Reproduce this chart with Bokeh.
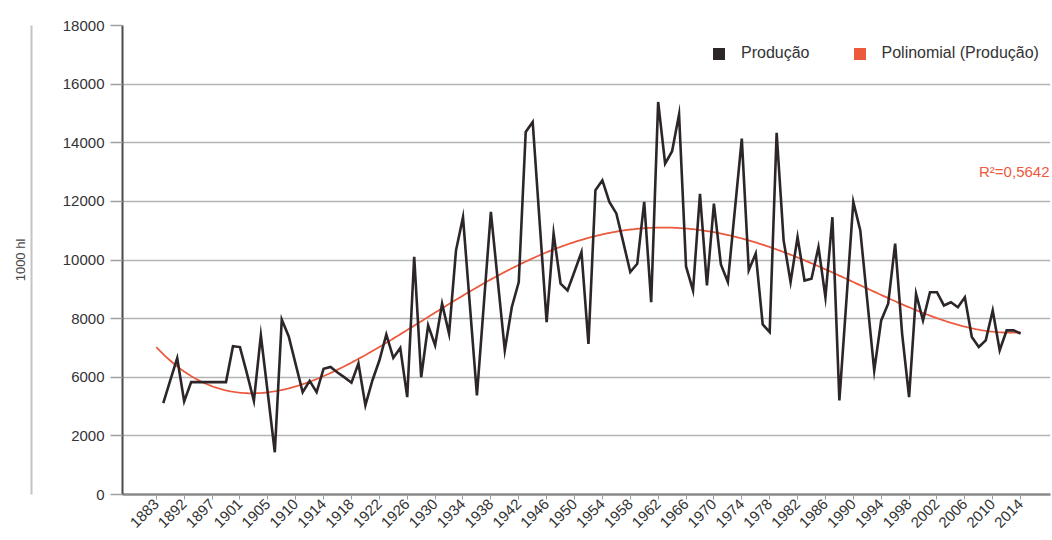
import numpy as np
from bokeh.plotting import figure
from bokeh.models import (Range1d, FixedTicker, Legend, LegendItem, Label,
                          LinearAxis, ColumnDataSource)
from bokeh.embed import file_html
from bokeh.resources import INLINE

# ---------------- data ----------------
YEARS = [1883, 1886, 1888, 1890, 1892, 1893, 1894, 1895, 1897, 1898, 1899, 1900,
         1901, 1902, 1903, 1904, 1905, 1906, 1907, 1908, 1910, 1911, 1912, 1913] + \
        list(range(1914, 2015))

PRODUCAO = [None, 4230, 5780, 6650, 4350, 5670, 5670, 5670, 5670, 5670, 5670, 7060,
            7030, 6130, 4380, 7430, 4890, 1440, 7970, 7390, 6440, 4980, 5750, 4980,
            6290, 6350, 6160, 5990, 5630, 6470, 4080, 5780, 6570, 7460, 6660, 7000,
            4640, 10110, 6000, 7770, 7090, 8510, 7490, 10330, 11460, 8420, 4760, 8520,
            11640, 9270, 6920, 8390, 9250, 14370, 14710, 11280, 7880, 10900, 9190, 8960,
            9610, 10270, 7140, 12380, 12720, 11980, 11590, 10600, 9590, 9870, 11980, 8560,
            15390, 13290, 13710, 14970, 9780, 8960, 12260, 9130, 11920, 9850, 9250, 11690,
            14140, 9650, 10220, 7800, 7540, 14340, 10670, 9250, 10780, 9300, 9360, 10440,
            8730, 11460, 4420, 8590, 11980, 11010, 8620, 6230, 7940, 8510, 10560, 7490,
            4640, 8850, 7940, 8900, 8900, 8450, 8560, 8390, 8730, 7370, 7030, 7260,
            8280, 6920, 7600, 7600, 7490]

# the printed value axis: equally spaced ticks carrying these labels
Y_TICK_VALUES = [0, 2000, 6000, 8000, 10000, 12000, 14000, 16000, 18000]
Y_TICK_LABELS = ["0", "2000", "6000", "8000", "10000", "12000", "14000", "16000", "18000"]
X_LABEL_STEP = 4

SERIES_NAME = "Produção"
TREND_NAME = "Polinomial (Produção)"
R2_TEXT = "R²=0,5642"
Y_TITLE = "1000 hl"
TREND_DEGREE = 4

# ---------------- styles ----------------
FONT = "Liberation Sans"
DARK = "#2c2529"
RED = "#ec5a3d"
GRID = "#b4b4b4"
TXT = "#333333"

# ---------------- scales ----------------
idx = np.arange(len(YEARS), dtype=float)
vals = np.array([np.nan if v is None else v for v in PRODUCAO], dtype=float)
valid = ~np.isnan(vals)
tick_pos = np.arange(len(Y_TICK_VALUES), dtype=float)
ypos = np.full_like(vals, np.nan)
ypos[valid] = np.interp(vals[valid], Y_TICK_VALUES, tick_pos)

coef = np.polyfit(idx[valid], ypos[valid], TREND_DEGREE)
tx = np.linspace(0, idx[-1], 500)
ty = np.polyval(coef, tx)

src = ColumnDataSource(dict(x=idx[valid], y=ypos[valid],
                            year=[YEARS[i] for i in range(len(YEARS)) if valid[i]],
                            value=vals[valid]))
tsrc = ColumnDataSource(dict(x=tx, y=ty))

p = figure(width=1052, height=540, output_backend="svg", toolbar_location=None,
           x_range=Range1d(-4.85, 128.29), y_range=Range1d(0, 8),
           min_border_left=122, min_border_right=2, min_border_top=25,
           min_border_bottom=46)
p.outline_line_color = None
p.background_fill_color = "white"
p.border_fill_color = "white"

p.xgrid.grid_line_color = None
p.ygrid.grid_line_color = GRID
p.ygrid.grid_line_width = 1.6

# y axis
p.yaxis.ticker = FixedTicker(ticks=list(tick_pos))
p.yaxis.major_label_overrides = {int(i): lab for i, lab in zip(tick_pos, Y_TICK_LABELS)}
p.yaxis.axis_line_color = "#4a4a4a"
p.yaxis.axis_line_width = 2
p.yaxis.major_tick_out = 12
p.yaxis.major_tick_in = 0
p.yaxis.major_tick_line_color = "#a0a0a0"
p.yaxis.major_tick_line_width = 1.5
p.yaxis.minor_tick_line_color = None
p.yaxis.major_label_standoff = 6
p.yaxis.major_label_text_font = FONT
p.yaxis.major_label_text_font_size = "15px"
p.yaxis.major_label_text_color = TXT

# spacer (blank) + outer axis carrying the title and the thin rule
spacer = LinearAxis(ticker=FixedTicker(ticks=[0]), axis_line_color=None,
                    major_tick_out=28, major_tick_in=0, major_tick_line_color="white",
                    minor_tick_out=0, minor_tick_line_color=None,
                    major_label_overrides={0: ""}, major_label_standoff=0,
                    major_label_text_font_size="1px")
p.add_layout(spacer, "left")
outer = LinearAxis(ticker=FixedTicker(ticks=[]), axis_line_color="#c4c4c4",
                   axis_line_width=2, major_tick_out=0, major_tick_in=0,
                   major_tick_line_color=None, minor_tick_out=0,
                   minor_tick_line_color=None, major_label_standoff=0,
                   axis_label=Y_TITLE, axis_label_standoff=4,
                   axis_label_text_font=FONT, axis_label_text_font_size="13px",
                   axis_label_text_font_style="normal",
                   axis_label_text_color="#444444")
p.add_layout(outer, "left")

# x axis
xt = list(range(0, len(YEARS), X_LABEL_STEP))
p.xaxis.ticker = FixedTicker(ticks=xt)
p.xaxis.major_label_overrides = {int(i): str(YEARS[i]) for i in xt}
p.xaxis.major_label_orientation = np.pi / 4
p.xaxis.axis_line_color = "#8a8a8a"
p.xaxis.axis_line_width = 2.5
p.xaxis.major_tick_out = 5
p.xaxis.major_tick_in = 0
p.xaxis.major_tick_line_color = "#9a9a9a"
p.xaxis.minor_tick_line_color = None
p.xaxis.major_label_standoff = 2
p.xaxis.major_label_text_font = FONT
p.xaxis.major_label_text_font_size = "15px"
p.xaxis.major_label_text_color = TXT

# series
p.line("x", "y", source=tsrc, line_color=RED, line_width=1.8)
p.line("x", "y", source=src, line_color=DARK, line_width=2.6, line_join="miter")

# legend proxies (square swatches, no visible data)
nan = [np.nan]
q1 = p.quad(left=nan, right=nan, top=nan, bottom=nan, fill_color=DARK, line_color=None)
q2 = p.quad(left=nan, right=nan, top=nan, bottom=nan, fill_color=RED, line_color=None)
legend = Legend(items=[LegendItem(label=SERIES_NAME, renderers=[q1]),
                       LegendItem(label=TREND_NAME, renderers=[q2])],
                orientation="horizontal", location=(589, 432),
                glyph_width=15, glyph_height=15, label_height=15,
                label_standoff=15, spacing=42, padding=0, margin=0,
                border_line_color=None, background_fill_alpha=0,
                label_text_font=FONT, label_text_font_size="16px",
                label_text_color=TXT)
p.add_layout(legend, "center")

p.add_layout(Label(x=927, y=323, x_units="screen", y_units="screen", text=R2_TEXT,
                   text_align="right", text_baseline="middle", text_color=RED,
                   text_font=FONT, text_font_size="15px"))

open("out.html", "w").write(file_html(p, INLINE))
